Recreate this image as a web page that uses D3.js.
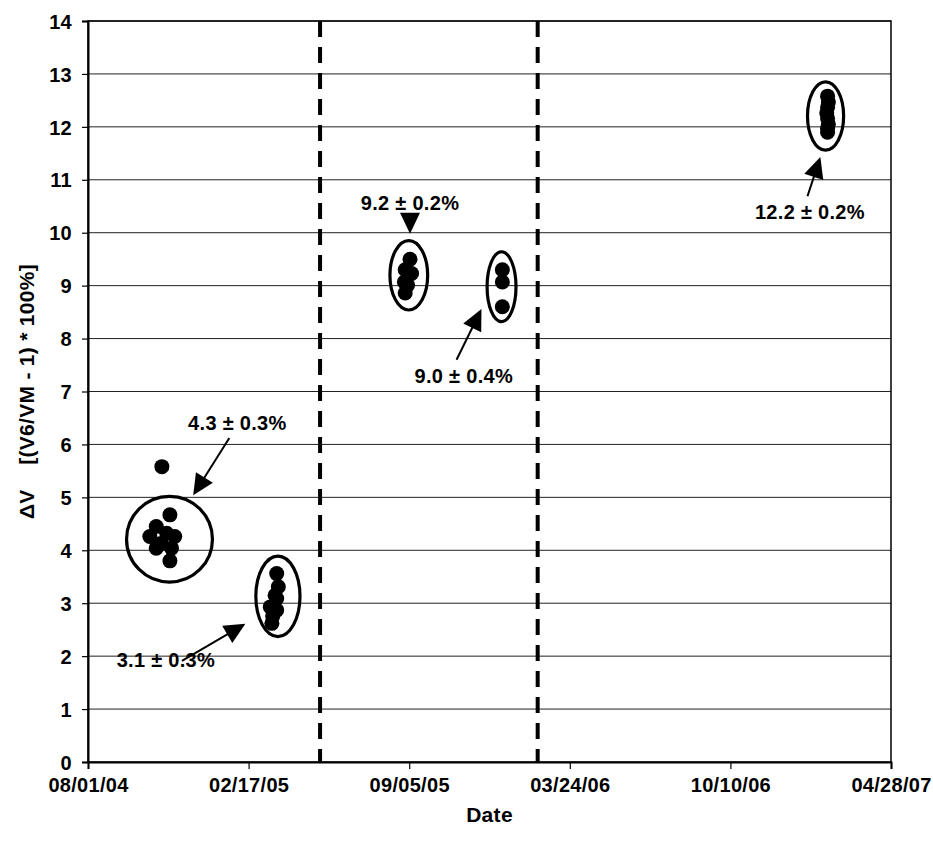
<!DOCTYPE html>
<html>
<head>
<meta charset="utf-8">
<script src="https://cdn.jsdelivr.net/npm/d3@7"></script>
<style>
  html, body { margin: 0; padding: 0; background: #fff; }
  svg text { font-family: "Liberation Sans", Arial, sans-serif; font-weight: 700; fill: #000; }
</style>
</head>
<body>
<svg id="chart" width="933" height="841"></svg>
<script>
// Measurement dates and ΔV values (%), one entry per sample
const sampleDates = [
  "2004-10-17", "2004-10-25", "2004-10-25", "2004-10-31", "2004-11-01", "2004-11-07",
  "2004-11-11", "2004-11-11", "2004-11-13", "2004-11-17",
  "2005-03-24", "2005-03-26", "2005-03-22", "2005-03-24", "2005-03-16", "2005-03-24",
  "2005-03-19", "2005-03-18",
  "2005-09-06", "2005-08-31", "2005-09-08", "2005-08-30", "2005-09-03", "2005-08-31",
  "2005-12-30", "2005-12-30", "2005-12-30",
  "2007-02-08", "2007-02-09", "2007-02-08", "2007-02-07", "2007-02-08", "2007-02-09",
  "2007-02-08", "2007-02-08"
];
const sampleValues = [
  4.26, 4.45, 4.04, 4.13, 5.58, 4.32,
  4.67, 3.80, 4.04, 4.26,
  3.56, 3.31, 3.15, 3.09, 2.93, 2.87,
  2.75, 2.62,
  9.50, 9.30, 9.23, 9.07, 9.01, 8.86,
  9.30, 9.07, 8.60,
  12.58, 12.47, 12.37, 12.26, 12.16, 12.05,
  11.97, 11.90
];

// Groupings outlined on the chart: date span and value span of each outline
const groupStart = ["2004-09-18", "2005-02-26", "2005-08-12", "2005-12-11", "2007-01-14"];
const groupEnd   = ["2005-01-03", "2005-04-22", "2005-09-28", "2006-01-16", "2007-02-28"];
const groupLow   = [3.40, 2.37, 8.54, 8.32, 11.56];
const groupHigh  = [5.02, 3.89, 9.85, 9.64, 12.85];

// Group summaries and the arrows pointing at each outline
const noteLabels    = ["4.3 ± 0.3%", "3.1 ± 0.3%", "9.2 ± 0.2%", "9.0 ± 0.4%", "12.2 ± 0.2%"];
const noteTextDate  = ["2005-02-03", "2004-11-06", "2005-09-06", "2005-11-12", "2007-01-17"];
const noteTextValue = [6.27, 1.79, 10.42, 7.16, 10.26];
const arrowFromDate  = ["2005-01-24", "2004-11-26", "2005-09-06", "2005-11-03", "2007-01-14"];
const arrowFromValue = [6.12, 1.91, 10.29, 7.60, 10.69];
const arrowToDate    = ["2004-12-10", "2005-02-13", "2005-09-06", "2005-12-04", "2007-01-30"];
const arrowToValue   = [5.04, 2.61, 9.98, 8.56, 11.43];

// Period boundaries (dashed verticals)
const boundaryDates = ["2005-05-17", "2006-02-12"];

// Axes
const xTickDates = ["2004-08-01", "2005-02-17", "2005-09-05", "2006-03-24", "2006-10-10", "2007-04-28"];
const yTicks = [0, 1, 2, 3, 4, 5, 6, 7, 8, 9, 10, 11, 12, 13, 14];
const xTitle = "Date";
const yTitle = "ΔV    [(V6/VM - 1) * 100%]";

const parse = d3.timeParse("%Y-%m-%d");
const fmt = d3.timeFormat("%m/%d/%y");

const margin = { top: 21, right: 42, bottom: 79, left: 88 };
const W = 933, H = 841;
const iw = W - margin.left - margin.right;
const ih = H - margin.top - margin.bottom;
const FONT = "20px", SPACING = "0.3px", TITLE_FONT = "21px";

const svg = d3.select("#chart");
const g = svg.append("g").attr("transform", `translate(${margin.left},${margin.top})`);

const x = d3.scaleTime()
  .domain([parse(xTickDates[0]), parse(xTickDates[xTickDates.length - 1])])
  .range([0, iw]);
const y = d3.scaleLinear().domain([0, 14]).range([ih, 0]);

// Horizontal gridlines
g.append("g").selectAll("line")
  .data(yTicks.filter(v => v > 0))
  .join("line")
  .attr("x1", 0).attr("x2", iw)
  .attr("y1", d => y(d)).attr("y2", d => y(d))
  .attr("stroke", "#222").attr("stroke-width", 1);

// Plot frame
g.append("rect")
  .attr("x", 0).attr("y", 0).attr("width", iw).attr("height", ih)
  .attr("fill", "none").attr("stroke", "#000").attr("stroke-width", 1.5);

// Dashed boundaries
g.append("g").selectAll("line")
  .data(boundaryDates.map(parse))
  .join("line")
  .attr("x1", d => x(d)).attr("x2", d => x(d))
  .attr("y1", 0).attr("y2", ih)
  .attr("stroke", "#000").attr("stroke-width", 4)
  .attr("stroke-dasharray", "16,10");

// Axes
const yAxis = g.append("g")
  .call(d3.axisLeft(y).tickValues(yTicks).tickSize(6).tickPadding(10).tickFormat(d3.format("d")));
const xAxis = g.append("g")
  .attr("transform", `translate(0,${ih})`)
  .call(d3.axisBottom(x).tickValues(xTickDates.map(parse)).tickSize(7).tickPadding(9).tickFormat(fmt));
[yAxis, xAxis].forEach(a => {
  a.select(".domain").attr("stroke", "#000").attr("stroke-width", 2);
  a.selectAll(".tick line").attr("stroke", "#000").attr("stroke-width", 1.2);
  a.selectAll(".tick text").style("font-size", FONT).style("letter-spacing", SPACING);
});
yAxis.selectAll(".tick text").attr("dy", "0.36em");
xAxis.selectAll(".tick text").attr("dy", "0.71em");

// Group outlines
const groups = groupStart.map((s, i) => ({
  x0: x(parse(s)), x1: x(parse(groupEnd[i])), y0: y(groupHigh[i]), y1: y(groupLow[i])
}));
g.append("g").selectAll("ellipse")
  .data(groups)
  .join("ellipse")
  .attr("cx", d => (d.x0 + d.x1) / 2)
  .attr("cy", d => (d.y0 + d.y1) / 2)
  .attr("rx", d => (d.x1 - d.x0) / 2)
  .attr("ry", d => (d.y1 - d.y0) / 2)
  .attr("fill", "none").attr("stroke", "#000").attr("stroke-width", 3.2);

// Samples
g.append("g").selectAll("circle")
  .data(sampleDates.map((d, i) => ({ date: parse(d), value: sampleValues[i] })))
  .join("circle")
  .attr("cx", d => x(d.date))
  .attr("cy", d => y(d.value))
  .attr("r", 7.5)
  .attr("fill", "#000");

// Arrows
const arrows = arrowFromDate.map((d, i) => ({
  x0: x(parse(d)), y0: y(arrowFromValue[i]),
  x1: x(parse(arrowToDate[i])), y1: y(arrowToValue[i])
}));
const headLen = 21, headHalf = 10;
const ag = g.append("g");
arrows.forEach(a => {
  const dx = a.x1 - a.x0, dy = a.y1 - a.y0, len = Math.hypot(dx, dy);
  const ux = dx / len, uy = dy / len;
  const bx = a.x1 - ux * headLen, by = a.y1 - uy * headLen;
  ag.append("line")
    .attr("x1", a.x0).attr("y1", a.y0).attr("x2", bx + ux * 2).attr("y2", by + uy * 2)
    .attr("stroke", "#000").attr("stroke-width", 2);
  ag.append("path")
    .attr("d", `M${a.x1},${a.y1}L${bx - uy * headHalf},${by + ux * headHalf}L${bx + uy * headHalf},${by - ux * headHalf}Z`)
    .attr("fill", "#000");
});

// Group summaries
g.append("g").selectAll("text")
  .data(noteLabels.map((t, i) => ({ t, date: parse(noteTextDate[i]), value: noteTextValue[i] })))
  .join("text")
  .attr("x", d => x(d.date))
  .attr("y", d => y(d.value))
  .attr("text-anchor", "middle")
  .style("font-size", FONT).style("letter-spacing", SPACING)
  .text(d => d.t);

// Axis titles
svg.append("text")
  .attr("x", margin.left + iw / 2).attr("y", 822)
  .attr("text-anchor", "middle")
  .style("font-size", TITLE_FONT).style("letter-spacing", SPACING)
  .text(xTitle);
svg.append("text")
  .attr("transform", `translate(34,${margin.top + ih / 2}) rotate(-90)`)
  .attr("text-anchor", "middle")
  .style("font-size", TITLE_FONT).style("letter-spacing", SPACING)
  .style("white-space", "pre")
  .text(yTitle);
</script>
</body>
</html>
